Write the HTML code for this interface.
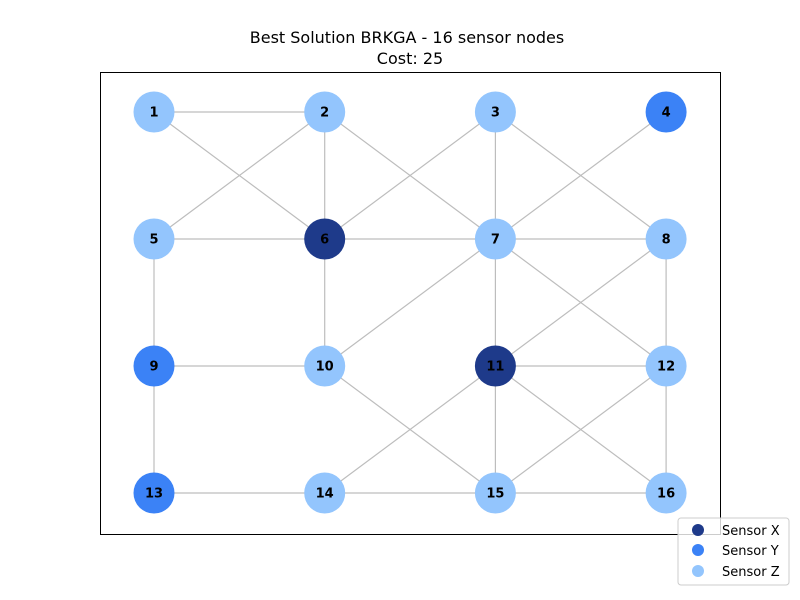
<!DOCTYPE html>
<html><head><meta charset="utf-8"><style>body{margin:0;background:#fff}svg{display:block;font-family:"DejaVu Sans","Liberation Sans",sans-serif}</style></head>
<body>
<svg id="chart" width="800" height="600" viewBox="0 0 800 600">
<rect width="800" height="600" fill="#fff"/>
<text x="407" y="43" text-anchor="middle" font-size="16">Best Solution BRKGA - 16 sensor nodes</text>
<text x="410" y="64" text-anchor="middle" font-size="16">Cost: 25</text>
<rect x="100.5" y="72.5" width="620" height="462" fill="none" stroke="#000" stroke-width="1"/>
<g id="edges"></g><g id="nodes"></g>
<g>
<rect x="678" y="518" width="111" height="67" rx="3" fill="#fff" fill-opacity="0.8" stroke="#ccc"/>
<circle cx="698" cy="530" r="6" fill="#1e3a8a"/>
<text x="722" y="535" font-size="13">Sensor X</text>
<circle cx="698" cy="550" r="6" fill="#3b82f6"/>
<text x="722" y="555" font-size="13">Sensor Y</text>
<circle cx="698" cy="571" r="6" fill="#93c5fd"/>
<text x="722" y="576" font-size="13">Sensor Z</text>
</g>
</svg>
<script>
const nodeIds=[1,2,3,4,5,6,7,8,9,10,11,12,13,14,15,16];
const nodeCols=[0,1,2,3,0,1,2,3,0,1,2,3,0,1,2,3];
const nodeRows=[0,0,0,0,1,1,1,1,2,2,2,2,3,3,3,3];
const nodeTypes=["Z","Z","Z","Y","Z","X","Z","Z","Y","Z","X","Z","Y","Z","Z","Z"];
const edgeFrom=[1,1,2,2,2,3,3,3,4,5,5,6,6,7,7,7,7,8,8,9,9,10,11,11,11,11,12,12,13,14,15];
const edgeTo=[2,6,5,6,7,6,7,8,7,6,9,7,10,8,10,11,12,11,12,10,13,15,12,14,15,16,15,16,14,15,16];
const colors={X:"#1e3a8a",Y:"#3b82f6",Z:"#93c5fd"};
const xs=c=>154+c*170.7, ys=r=>112+r*127;
const NS="http://www.w3.org/2000/svg";
const eg=document.getElementById('edges'), ng=document.getElementById('nodes');
edgeFrom.forEach((a,i)=>{const b=edgeTo[i];const l=document.createElementNS(NS,'line');
l.setAttribute('x1',xs(nodeCols[a-1]));l.setAttribute('y1',ys(nodeRows[a-1]));
l.setAttribute('x2',xs(nodeCols[b-1]));l.setAttribute('y2',ys(nodeRows[b-1]));
l.setAttribute('stroke','#bdbdbd');l.setAttribute('stroke-width','1.2');


eg.appendChild(l);});
nodeIds.forEach((id,i)=>{const c=document.createElementNS(NS,'circle');
c.setAttribute('cx',xs(nodeCols[i]));c.setAttribute('cy',ys(nodeRows[i]));c.setAttribute('r',20.5);
c.setAttribute('fill',colors[nodeTypes[i]]);


ng.appendChild(c);
const t=document.createElementNS(NS,'text');
t.setAttribute('x',xs(nodeCols[i]));t.setAttribute('y',ys(nodeRows[i])+4.5);
t.setAttribute('text-anchor','middle');t.setAttribute('font-size','13');t.setAttribute('font-weight','bold');
t.textContent=id;


ng.appendChild(t);});
</script>
</body></html>
